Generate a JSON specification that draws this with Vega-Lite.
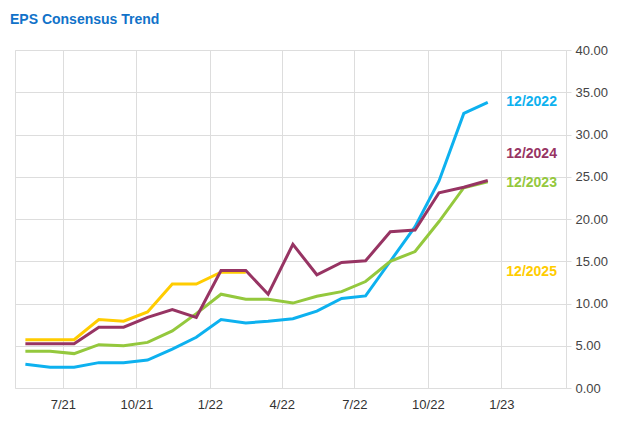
{
  "$schema": "https://vega.github.io/schema/vega-lite/v6.json",
  "width": 551,
  "height": 338,
  "autosize": {"type": "none"},
  "padding": {"left": 15, "top": 50, "right": 54, "bottom": 41},
  "background": "white",
  "title": {
    "text": "EPS Consensus Trend",
    "anchor": "start",
    "frame": "group",
    "font": "Liberation Sans",
    "fontSize": 14,
    "fontWeight": "bold",
    "color": "#1172c9",
    "dx": -5,
    "offset": 17
  },
  "config": {
    "view": {"stroke": "#dddddd", "strokeWidth": 1},
    "font": "Liberation Sans"
  },
  "datasets": {
    "eps": [
      {"series": "12/2025", "date": "2021-05-15", "eps": 5.72},
      {"series": "12/2025", "date": "2021-06-15", "eps": 5.72},
      {"series": "12/2025", "date": "2021-07-15", "eps": 5.72},
      {"series": "12/2025", "date": "2021-08-15", "eps": 8.1},
      {"series": "12/2025", "date": "2021-09-15", "eps": 7.9},
      {"series": "12/2025", "date": "2021-10-15", "eps": 9.0},
      {"series": "12/2025", "date": "2021-11-15", "eps": 12.3},
      {"series": "12/2025", "date": "2021-12-15", "eps": 12.3},
      {"series": "12/2025", "date": "2022-01-15", "eps": 13.7},
      {"series": "12/2025", "date": "2022-02-15", "eps": 13.7},

      {"series": "12/2022", "date": "2021-05-15", "eps": 2.8},
      {"series": "12/2022", "date": "2021-06-15", "eps": 2.45},
      {"series": "12/2022", "date": "2021-07-15", "eps": 2.45},
      {"series": "12/2022", "date": "2021-08-15", "eps": 3.0},
      {"series": "12/2022", "date": "2021-09-15", "eps": 3.0},
      {"series": "12/2022", "date": "2021-10-15", "eps": 3.3},
      {"series": "12/2022", "date": "2021-11-15", "eps": 4.6},
      {"series": "12/2022", "date": "2021-12-15", "eps": 6.0},
      {"series": "12/2022", "date": "2022-01-15", "eps": 8.1},
      {"series": "12/2022", "date": "2022-02-15", "eps": 7.7},
      {"series": "12/2022", "date": "2022-03-15", "eps": 7.9},
      {"series": "12/2022", "date": "2022-04-15", "eps": 8.2},
      {"series": "12/2022", "date": "2022-05-15", "eps": 9.1},
      {"series": "12/2022", "date": "2022-06-15", "eps": 10.6},
      {"series": "12/2022", "date": "2022-07-15", "eps": 10.9},
      {"series": "12/2022", "date": "2022-08-15", "eps": 15.0},
      {"series": "12/2022", "date": "2022-09-15", "eps": 19.1},
      {"series": "12/2022", "date": "2022-10-15", "eps": 24.5},
      {"series": "12/2022", "date": "2022-11-15", "eps": 32.5},
      {"series": "12/2022", "date": "2022-12-15", "eps": 33.8},

      {"series": "12/2023", "date": "2021-05-15", "eps": 4.35},
      {"series": "12/2023", "date": "2021-06-15", "eps": 4.35},
      {"series": "12/2023", "date": "2021-07-15", "eps": 4.07},
      {"series": "12/2023", "date": "2021-08-15", "eps": 5.13},
      {"series": "12/2023", "date": "2021-09-15", "eps": 5.0},
      {"series": "12/2023", "date": "2021-10-15", "eps": 5.4},
      {"series": "12/2023", "date": "2021-11-15", "eps": 6.75},
      {"series": "12/2023", "date": "2021-12-15", "eps": 8.8},
      {"series": "12/2023", "date": "2022-01-15", "eps": 11.1},
      {"series": "12/2023", "date": "2022-02-15", "eps": 10.5},
      {"series": "12/2023", "date": "2022-03-15", "eps": 10.5},
      {"series": "12/2023", "date": "2022-04-15", "eps": 10.05},
      {"series": "12/2023", "date": "2022-05-15", "eps": 10.85},
      {"series": "12/2023", "date": "2022-06-15", "eps": 11.4},
      {"series": "12/2023", "date": "2022-07-15", "eps": 12.6},
      {"series": "12/2023", "date": "2022-08-15", "eps": 15.0},
      {"series": "12/2023", "date": "2022-09-15", "eps": 16.15},
      {"series": "12/2023", "date": "2022-10-15", "eps": 19.7},
      {"series": "12/2023", "date": "2022-11-15", "eps": 23.7},
      {"series": "12/2023", "date": "2022-12-15", "eps": 24.4},

      {"series": "12/2024", "date": "2021-05-15", "eps": 5.25},
      {"series": "12/2024", "date": "2021-06-15", "eps": 5.25},
      {"series": "12/2024", "date": "2021-07-15", "eps": 5.25},
      {"series": "12/2024", "date": "2021-08-15", "eps": 7.2},
      {"series": "12/2024", "date": "2021-09-15", "eps": 7.2},
      {"series": "12/2024", "date": "2021-10-15", "eps": 8.35},
      {"series": "12/2024", "date": "2021-11-15", "eps": 9.27},
      {"series": "12/2024", "date": "2021-12-15", "eps": 8.35},
      {"series": "12/2024", "date": "2022-01-15", "eps": 13.9},
      {"series": "12/2024", "date": "2022-02-15", "eps": 13.9},
      {"series": "12/2024", "date": "2022-03-15", "eps": 11.1},
      {"series": "12/2024", "date": "2022-04-15", "eps": 17.0},
      {"series": "12/2024", "date": "2022-05-15", "eps": 13.4},
      {"series": "12/2024", "date": "2022-06-15", "eps": 14.85},
      {"series": "12/2024", "date": "2022-07-15", "eps": 15.05},
      {"series": "12/2024", "date": "2022-08-15", "eps": 18.5},
      {"series": "12/2024", "date": "2022-09-15", "eps": 18.7},
      {"series": "12/2024", "date": "2022-10-15", "eps": 23.1},
      {"series": "12/2024", "date": "2022-11-15", "eps": 23.75},
      {"series": "12/2024", "date": "2022-12-15", "eps": 24.55}
    ],
    "labels": [
      {"series": "12/2022", "date": "2023-01-01", "eps": 33.8},
      {"series": "12/2024", "date": "2023-01-01", "eps": 27.7},
      {"series": "12/2023", "date": "2023-01-01", "eps": 24.3},
      {"series": "12/2025", "date": "2023-01-01", "eps": 13.7}
    ]
  },
  "layer": [
    {
      "data": {"name": "eps"},
      "mark": {"type": "line", "strokeWidth": 3, "strokeJoin": "miter", "clip": false},
      "encoding": {
        "x": {
          "field": "date",
          "type": "temporal",
          "scale": {"domain": ["2021-05-02", "2023-03-23"]},
          "axis": {
            "title": null,
            "values": [
              {"year": 2021, "month": 7, "date": 1},
              {"year": 2021, "month": 10, "date": 1},
              {"year": 2022, "month": 1, "date": 1},
              {"year": 2022, "month": 4, "date": 1},
              {"year": 2022, "month": 7, "date": 1},
              {"year": 2022, "month": 10, "date": 1},
              {"year": 2023, "month": 1, "date": 1}
            ],
            "format": "%-m/%y",
            "grid": true,
            "gridColor": "#dddddd",
            "gridOpacity": 1,
            "domain": false,
            "ticks": false,
            "labelFontSize": 13,
            "labelColor": "#333333",
            "labelPadding": 10,
            "labelFont": "Liberation Sans"
          }
        },
        "y": {
          "field": "eps",
          "type": "quantitative",
          "scale": {"domain": [0, 40], "nice": false},
          "axis": {
            "title": null,
            "orient": "right",
            "values": [0, 5, 10, 15, 20, 25, 30, 35, 40],
            "format": ".2f",
            "grid": true,
            "gridColor": "#dddddd",
            "gridOpacity": 1,
            "domain": false,
            "ticks": true,
            "tickColor": "#dddddd",
            "tickSize": 5,
            "labelPadding": 4,
            "labelFontSize": 13,
            "labelColor": "#444444",
            "labelFont": "Liberation Sans"
          }
        },
        "color": {
          "field": "series",
          "type": "nominal",
          "scale": {
            "domain": ["12/2025", "12/2022", "12/2023", "12/2024"],
            "range": ["#ffcc00", "#0db1ef", "#94c83d", "#973463"]
          },
          "legend": null
        },
        "order": {"field": "date", "type": "temporal"}
      }
    },
    {
      "data": {"name": "labels"},
      "mark": {
        "type": "text",
        "align": "left",
        "baseline": "middle",
        "dx": 5,
        "fontSize": 14,
        "fontWeight": "bold",
        "font": "Liberation Sans"
      },
      "encoding": {
        "x": {"field": "date", "type": "temporal"},
        "y": {"field": "eps", "type": "quantitative"},
        "text": {"field": "series"},
        "color": {"field": "series", "type": "nominal", "legend": null}
      }
    }
  ]
}
